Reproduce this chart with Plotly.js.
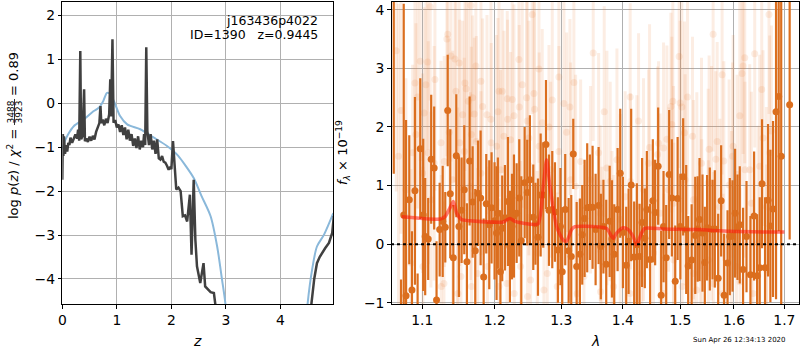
<!DOCTYPE html>
<html>
<head>
<meta charset="utf-8">
<script src="https://cdn.plot.ly/plotly-3.0.1.min.js"></script>
<style>html,body{margin:0;padding:0;background:#fff;}#chart{width:800px;height:350px;}</style>
</head>
<body>
<div id="chart"></div>
<script>
// ---------- left panel: redshift PDF ----------
const zPdf = [0.00,0.01,0.02,0.03,0.05,0.07,0.09,0.11,0.13,0.15,0.18,0.21,0.24,0.27,0.29,0.31,0.33,0.345,0.37,0.40,0.415,0.44,0.47,0.50,0.53,0.56,0.59,0.62,0.65,0.68,0.70,0.715,0.74,0.77,0.80,0.83,0.86,0.88,0.895,0.92,0.94,0.97,1.00,1.03,1.06,1.09,1.12,1.15,1.18,1.21,1.24,1.27,1.30,1.33,1.36,1.39,1.42,1.45,1.48,1.50,1.52,1.54,1.56,1.59,1.62,1.65,1.68,1.71,1.74,1.77,1.80,1.83,1.86,1.89,1.92,1.95,1.98,2.00,2.03,2.06,2.09,2.13,2.17,2.21,2.25,2.29,2.34,2.37,2.41,2.44,2.47,2.53,2.59,2.62,2.68,2.72,2.78,2.81,2.85,2.95,4.45,4.55,4.57,4.62,4.67,4.72,4.76,4.82,4.89,4.95,4.98];
const logPdf = [-1.74,-0.70,-1.20,-0.75,-1.15,-0.95,-1.10,-0.90,-0.95,-0.78,-0.90,-0.80,-0.71,-0.80,-0.60,-0.85,1.19,-0.82,-0.75,0.32,-0.86,-0.80,-0.88,-0.76,-0.85,-0.74,-0.82,-0.65,-0.55,-0.45,-0.06,-0.45,-0.37,-0.50,-0.35,-0.45,-0.25,0.55,-0.30,1.46,-0.44,-0.38,-0.55,-0.48,-0.65,-0.50,-0.72,-0.55,-0.82,-0.60,-0.85,-0.70,-0.97,-0.80,-1.02,-0.75,-1.05,-0.85,-1.00,-0.70,-0.95,1.28,-0.63,-0.95,-0.70,-1.05,-0.85,-1.15,-0.82,-1.25,-1.28,-1.20,-1.33,-1.35,-1.42,-1.51,-1.45,-1.50,-0.86,-1.43,-1.96,-1.92,-2.00,-2.57,-2.55,-2.69,-2.08,-3.45,-1.74,-3.10,-3.71,-4.09,-3.64,-4.17,-4.25,-4.30,-4.32,-4.55,-5.00,-8.00,-8.00,-4.90,-4.55,-4.00,-3.64,-3.50,-3.41,-3.30,-3.18,-2.95,-2.57];
const zPrior = [0.00,0.05,0.10,0.21,0.39,0.57,0.67,0.75,0.82,0.88,0.97,1.06,1.19,1.43,1.68,1.92,2.04,2.13,2.25,2.41,2.55,2.72,2.84,2.93,2.99,3.05,3.30,4.30,4.45,4.50,4.58,4.67,4.80,4.97];
const logPrior = [-1.05,-0.85,-0.72,-0.52,-0.37,-0.18,-0.10,0.05,0.24,0.21,-0.02,-0.29,-0.48,-0.59,-0.78,-0.97,-1.09,-1.20,-1.40,-1.70,-2.10,-2.57,-3.26,-4.02,-4.55,-5.50,-12,-12,-5.30,-4.55,-3.80,-3.26,-2.99,-2.50];
const zTicks = [0,1,2,3,4];
const pTicks = [-4,-3,-2,-1,0,1,2];

// ---------- right panel: 1D spectrum ----------
const lamStrong = [1.0629,1.0722,1.0757,1.0787,1.0829,1.0864,1.0903,1.0938,1.0973,1.1012,1.1038,1.1078,1.1118,1.1158,1.1190,1.1232,1.1273,1.1308,1.1341,1.1376,1.1418,1.1459,1.1495,1.1532,1.1569,1.1606,1.1644,1.1686,1.1723,1.1761,1.1799,1.1842,1.1879,1.1922,1.1955,1.1998,
1.2027,1.2046,1.2083,1.2109,1.2149,1.2193,1.2222,1.2252,1.2281,1.2321,1.2360,1.2390,1.2440,1.2479,1.2519,1.2570,1.2603,1.2641,1.2682,1.2722,1.2763,1.2809,1.2860,1.2902,1.2948,1.2987,1.3015,1.3062,1.3116,1.3157,1.3189,1.3243,1.3295,1.3332,1.3370,1.3412,1.3455,1.3499,1.3548,
1.3597,1.3634,1.3676,1.3722,1.3779,1.3817,1.3855,1.3911,1.3955,1.4000,1.4056,1.4096,1.4140,1.4191,1.4237,1.4283,1.4327,1.4374,1.4409,1.4466,1.4513,1.4553,1.4606,1.4659,1.4701,1.4748,1.4801,1.4849,1.4909,1.4952,1.5001,1.5052,1.5107,1.5143,1.5206,1.5272,1.5316,1.5351,
1.5406,1.5449,1.5491,1.5542,1.5593,1.5636,1.5699,1.5755,1.5812,1.5877,1.5920,1.5972,1.6022,1.6068,1.6112,1.6176,1.6243,1.6320,1.6392,1.6451,1.6503,1.6549,1.6609,1.6669,1.6716,1.6769,1.6830,1.6884,1.6935,1.7108];
const fluxStrong = [4.60,-1.60,0.50,-0.88,0.76,-0.78,0.91,-1.50,1.63,0.50,0.13,0.09,1.45,1.30,-0.95,0.25,0.39,0.29,2.28,0.86,-0.23,1.51,0.30,0.58,0.93,-0.30,1.42,0.72,-0.11,0.87,0.79,-0.56,0.69,0.33,0.62,0.40,
0.19,0.53,-0.47,0.27,0.45,0.73,-0.04,0.30,0.48,0.53,0.79,0.06,1.05,0.88,1.10,0.46,0.35,0.12,0.84,0.84,1.70,0.58,0.59,0.55,-0.10,0.30,-0.47,0.59,-0.11,-0.21,1.54,-0.38,-0.17,0.16,0.44,0.62,0.63,0.63,0.25,
0.66,-0.04,0.30,-0.34,0.39,0.09,-0.17,0.59,1.21,0.20,-0.36,0.05,1.01,-0.22,-0.01,-0.21,0.37,0.10,0.59,-0.26,0.74,0.54,1.33,-0.87,0.30,-0.23,1.19,0.79,-0.63,0.78,0.30,1.15,0.25,-0.37,-0.27,0.15,0.26,0.42,
0.19,-0.31,0.28,0.26,0.25,0.26,-0.58,0.74,-0.87,-0.32,0.13,0.14,0.53,0.29,0.33,-0.43,0.13,-0.52,0.48,-0.54,-0.40,1.03,-0.40,0.75,0.31,0.60,2.26,2.52,1.50,2.38];
const errStrong = [3.40,1.00,3.60,3.00,1.10,1.00,1.60,1.00,1.20,1.30,1.00,0.70,1.10,1.05,1.00,0.80,0.95,0.60,0.95,1.10,0.90,1.05,1.20,0.90,1.10,1.00,1.10,0.95,1.05,0.90,1.15,1.00,0.85,1.10,0.95,1.00,
1.14,0.95,1.05,0.90,0.90,1.10,0.95,0.90,1.05,0.85,1.00,1.10,0.95,0.90,1.10,0.90,0.70,1.00,1.05,0.90,1.10,0.95,1.00,0.85,0.90,1.00,1.10,0.95,0.90,1.05,0.60,1.10,0.95,0.85,1.00,1.10,0.90,1.05,0.95,
1.00,0.90,0.80,1.10,0.95,1.00,0.85,1.05,1.10,0.95,1.00,0.90,1.30,0.95,1.05,0.90,1.10,0.85,1.00,0.95,1.05,0.90,1.00,1.10,0.95,0.90,1.10,1.00,0.95,1.05,0.90,1.00,1.10,0.85,0.95,1.00,0.90,1.05,
1.00,0.95,0.90,1.05,0.85,1.00,1.10,0.95,1.05,0.90,1.00,0.95,1.10,0.90,1.00,1.05,0.95,1.00,1.10,1.05,1.20,1.10,1.20,1.30,1.30,1.50,3.20,2.30,2.80,2.30];

const lamFaint = [1.1105,1.1662,1.1341,1.1330,1.0973,1.1071,1.1386,1.1440,1.1499,1.1732,1.1168,1.0903,1.1048,1.1578,1.1803,1.1454,1.1596,1.1686,1.1625,1.0938,1.1827,1.0722,1.1025,1.1546,1.1709,1.1889,1.1946,1.1668,1.0916,1.1362,1.1738,1.1250,1.1505,1.1950,1.0873,1.1079,1.1569,1.1158,1.1294,1.1803,1.1004,1.1409,1.1655,1.0785,1.1114,1.1477,1.1008,1.1290,1.1523,1.1670,1.1254,1.1481,1.1757,1.1897,1.0852,1.0660,1.0690,
1.2554,1.3509,1.2355,1.2656,1.2963,1.2062,1.2109,1.3199,1.2404,1.2580,1.2183,1.2470,1.2256,1.2860,1.2360,1.2590,1.2047,1.3042,1.3136,1.2281,1.2188,1.2479,1.2706,1.2809,1.2134,1.3084,1.2504,1.2232,1.2027,1.2660,1.2963,1.3306,1.2086,1.3147,1.2835,1.3466,1.3226,1.2380,1.2630,1.2783,1.2937,1.2529,1.2178,1.2732,1.3359,1.3252,1.2285,1.2062,1.2484,
1.4123,1.3689,1.4266,1.4979,1.4866,1.4997,1.5131,1.4831,1.5028,1.4848,1.5076,1.5222,1.4760,1.4456,1.4613,1.4701,1.3597,1.4596,1.3900,1.4438,1.3733,1.5087,1.4128,1.3788,1.5301,1.4351,1.4790,1.4038,1.5240,1.4879,1.3623,1.5362,1.4237,1.4641,1.3955,1.3817,1.4525,1.4884,1.5245,1.3651,1.3845,1.4322,1.5033,1.4118,1.4706,1.5296,1.3628,
1.6688,1.5604,1.6404,1.6209,1.6176,1.6157,1.5774,1.6543,1.6112,1.6737,1.6569,1.5680,1.5983,1.5529,1.5387,1.6702,1.5655,1.5806,1.5972,1.6503,1.6306,1.6214,1.6060,1.5574,1.5511,1.5907,1.6339,1.6636,1.5730,1.5392,1.5952,1.6469,1.5516,1.6048,1.5609,1.6117,1.6641,1.5793,1.6371];
const fluxFaint = [4.05,4.07,3.58,3.50,3.12,3.11,3.21,3.16,3.09,3.04,2.81,2.75,2.72,2.75,2.78,2.61,2.65,2.50,2.44,2.51,2.35,2.28,2.24,2.21,2.22,2.21,2.13,1.87,1.87,1.91,1.75,1.73,1.73,1.73,1.56,1.56,1.58,1.38,1.41,1.21,1.21,1.10,0.99,0.93,0.76,0.53,-0.38,-0.67,-0.55,-0.72,-0.72,-0.84,-0.50,-0.38,-0.32,3.30,1.50,
3.92,3.26,3.15,2.99,2.85,2.61,2.61,2.76,2.72,2.57,2.48,2.50,2.47,2.46,2.34,2.30,2.26,2.40,2.34,2.19,2.13,2.10,2.07,2.00,1.84,1.91,1.81,1.78,1.67,1.67,1.58,1.41,1.27,1.10,1.27,1.10,0.99,-0.38,-0.15,-0.50,-0.72,-0.61,-0.67,-0.78,-0.55,-0.84,-0.84,-0.72,-0.89,
2.51,2.26,2.10,3.20,2.44,2.41,2.51,2.35,2.34,2.04,1.90,1.84,1.79,1.65,1.72,1.64,1.56,1.53,1.44,1.38,1.30,1.10,1.07,1.07,0.99,0.93,0.93,0.81,0.76,0.70,0.53,0.42,0.64,0.53,0.42,0.19,-0.15,-0.27,-0.50,-0.38,-0.72,-0.50,-0.72,-0.84,-0.84,-0.78,-0.81,
3.92,3.58,3.25,3.18,3.04,2.91,2.89,2.64,2.19,1.93,1.81,1.75,1.67,1.62,1.38,1.56,1.45,1.42,1.50,1.33,1.27,1.27,1.19,1.04,1.05,1.01,0.70,0.64,0.64,0.19,0.13,0.02,-0.27,-0.38,-0.67,-0.64,-0.44,-0.84,-0.84];
const errFaint = [1.6,1.9,1.4,2.0,1.7,1.5,1.8,2.1,1.6,1.3,1.9,1.7,2.2,1.5,1.8,1.6,2.0,1.4,1.7,1.9,1.5,2.1,1.8,1.6,1.3,1.7,2.0,1.5,1.9,1.6,1.8,1.4,2.1,1.7,1.5,1.9,1.6,2.0,1.8,1.4,1.7,2.2,1.6,1.9,1.5,1.8,1.7,1.4,2.0,1.6,1.9,1.5,1.8,1.7,1.6,2.4,2.6,
1.7,1.5,1.9,1.6,2.0,1.8,1.4,1.7,2.1,1.6,1.5,1.9,1.8,1.7,1.4,2.0,1.6,1.8,1.5,1.9,1.7,2.1,1.6,1.4,1.8,1.7,2.0,1.5,1.9,1.6,1.8,1.4,1.7,2.0,1.5,1.6,1.9,1.8,1.4,1.7,1.6,2.0,1.5,1.8,1.9,1.6,1.7,1.5,1.4,
1.6,1.8,1.5,1.9,1.7,1.4,2.0,1.6,1.8,1.5,1.9,1.7,1.6,2.1,1.4,1.8,1.7,1.5,1.9,1.6,2.0,1.8,1.5,1.7,1.6,1.9,1.4,1.8,1.7,2.0,1.5,1.6,1.9,1.7,1.8,1.4,1.6,2.0,1.5,1.7,1.9,1.6,1.8,1.5,1.7,1.6,1.9,
1.7,2.0,1.6,1.8,1.5,1.9,1.7,1.6,2.1,1.8,1.5,1.7,1.9,1.6,1.8,2.0,1.5,1.7,1.6,1.9,1.8,1.5,1.7,2.0,1.6,1.8,1.9,1.7,1.5,1.6,1.8,2.0,1.7,1.5,1.9,1.6,1.8,1.7,1.6];

const lamModel = [1.0731,1.1236,1.1304,1.1372,1.1418,1.1464,1.1532,1.1648,1.2124,1.2222,1.2296,1.2519,1.2645,1.2722,1.2773,1.2824,1.2928,1.3031,1.3084,1.3163,1.3215,1.3564,1.3728,1.3838,1.3894,1.4005,1.4089,1.4174,1.4232,1.4317,1.4374,1.4694,1.5295,1.5920,1.6569,1.7000];
const fluxModel = [0.47,0.43,0.47,0.62,0.73,0.53,0.42,0.40,0.38,0.44,0.39,0.34,0.35,0.99,1.44,0.99,0.30,0.07,0.05,0.25,0.30,0.30,0.27,0.10,0.19,0.28,0.25,0.13,-0.01,0.19,0.27,0.26,0.25,0.22,0.21,0.21];
const lamTicks = [1.1,1.2,1.3,1.4,1.5,1.6,1.7];
const lamTickText = ['1.1','1.2','1.3','1.4','1.5','1.6','1.7'];
const fTicks = [-1,0,1,2,3,4];

const ORANGE = 'rgb(219,110,30)';
const FAINT = 'rgba(232,130,60,0.14)';

const traces = [
  {x: zPrior, y: logPrior, xaxis:'x', yaxis:'y', mode:'lines', line:{color:'rgb(138,184,218)', width:2, shape:'spline', smoothing:0.8}, hoverinfo:'skip'},
  {x: zPdf, y: logPdf, xaxis:'x', yaxis:'y', mode:'lines', line:{color:'rgb(64,64,64)', width:2.5}, hoverinfo:'skip'},
  {x: lamFaint, y: fluxFaint, xaxis:'x2', yaxis:'y2', mode:'markers',
   marker:{color:FAINT, size:7, line:{width:0}},
   error_y:{type:'data', array: errFaint, visible:true, thickness:3, width:0, color:FAINT}, hoverinfo:'skip'},
  {x: lamStrong, y: fluxStrong, xaxis:'x2', yaxis:'y2', mode:'markers',
   marker:{color:ORANGE, size:7, line:{width:0}},
   error_y:{type:'data', array: errStrong, visible:true, thickness:2.2, width:0, color:ORANGE}, hoverinfo:'skip'},
  {x: lamModel, y: fluxModel, xaxis:'x2', yaxis:'y2', mode:'lines', line:{color:'rgba(255,20,10,0.55)', width:3.5, shape:'spline', smoothing:0.6}, hoverinfo:'skip'},
  {x: [1.0, 1.8], y: [0, 0], xaxis:'x2', yaxis:'y2', mode:'lines', line:{color:'#000', width:2, dash:'dot'}, hoverinfo:'skip'}
];

const axCommon = {
  showline:true, mirror:true, linecolor:'#000', linewidth:1,
  ticks:'outside', ticklen:3.5, tickwidth:1, tickcolor:'#000',
  showgrid:true, gridcolor:'#b0b0b0', gridwidth:1, zeroline:false,
  tickfont:{family:'DejaVu Sans', size:13.9, color:'#000'}
};
const yDom = [1 - 304/350, 1 - 1.5/350];

const layout = {
  width:800, height:350, margin:{l:0, r:0, t:0, b:0},
  paper_bgcolor:'#fff', plot_bgcolor:'#fff', showlegend:false,
  font:{family:'DejaVu Sans', size:13.9, color:'#000'},
  xaxis: Object.assign({}, axCommon, {domain:[62.3/800, 333.3/800], range:[0, 4.97], tickvals: zTicks, anchor:'y'}),
  yaxis: Object.assign({}, axCommon, {domain:yDom, range:[-4.57, 2.32], tickvals: pTicks, anchor:'x'}),
  xaxis2: Object.assign({}, axCommon, {domain:[391.7/800, 799.3/800], type:'log', range:[0.02541, 0.23823], tickvals: lamTicks, ticktext: lamTickText, anchor:'y2'}),
  yaxis2: Object.assign({}, axCommon, {domain:yDom, range:[-1.02, 4.14], tickvals: fTicks, anchor:'x2'}),
  shapes: [
    {type:'line', xref:'paper', yref:'paper', x0:14.5/800, x1:14.5/800, y0:1-99/350, y1:1-125/350, line:{color:'#000', width:0.8}}
  ],
  annotations: [
    {text:'j163436p4022', xref:'paper', yref:'paper', x:319/800, y:1-20/350, xanchor:'right', yanchor:'middle', showarrow:false, borderpad:0, font:{size:12.5}},
    {text:'ID=1390\u00a0\u00a0\u00a0z=0.9445', xref:'paper', yref:'paper', x:319/800, y:1-35/350, xanchor:'right', yanchor:'middle', showarrow:false, borderpad:0, font:{size:12.5}},
    {text:'<i>z</i>', xref:'paper', yref:'paper', x:197.5/800, y:1-341/350, xanchor:'center', yanchor:'middle', showarrow:false, font:{size:14}},
    {text:'<i>λ</i>', xref:'paper', yref:'paper', x:595/800, y:1-341/350, xanchor:'center', yanchor:'middle', showarrow:false, font:{size:14}},
    {text:'log <i>p</i>(<i>z</i>) / <i>χ</i><sup>2</sup> =', xref:'paper', yref:'paper', x:13/800, y:1-128/350, xanchor:'center', yanchor:'top', textangle:-90, showarrow:false, borderpad:0, font:{size:13}},
    {text:'3488', xref:'paper', yref:'paper', x:10.5/800, y:1-112/350, xanchor:'center', yanchor:'middle', textangle:-90, showarrow:false, borderpad:0, font:{size:9}},
    {text:'3923', xref:'paper', yref:'paper', x:18.5/800, y:1-112/350, xanchor:'center', yanchor:'middle', textangle:-90, showarrow:false, borderpad:0, font:{size:9}},
    {text:'= 0.89', xref:'paper', yref:'paper', x:13/800, y:1-97/350, xanchor:'center', yanchor:'bottom', textangle:-90, showarrow:false, borderpad:0, font:{size:13}},
    {text:'<i>f</i><sub><i>λ</i></sub> × 10<sup>−19</sup>', xref:'paper', yref:'paper', x:343/800, y:1-153/350, xanchor:'center', yanchor:'middle', textangle:-90, showarrow:false, font:{size:13}},
    {text:'Sun Apr 26 12:34:13 2020', xref:'paper', yref:'paper', x:788/800, y:1-340/350, xanchor:'right', yanchor:'middle', showarrow:false, font:{size:7}}
  ]
};

Plotly.newPlot('chart', traces, layout, {staticPlot:true, displayModeBar:false});
</script>
</body>
</html>
